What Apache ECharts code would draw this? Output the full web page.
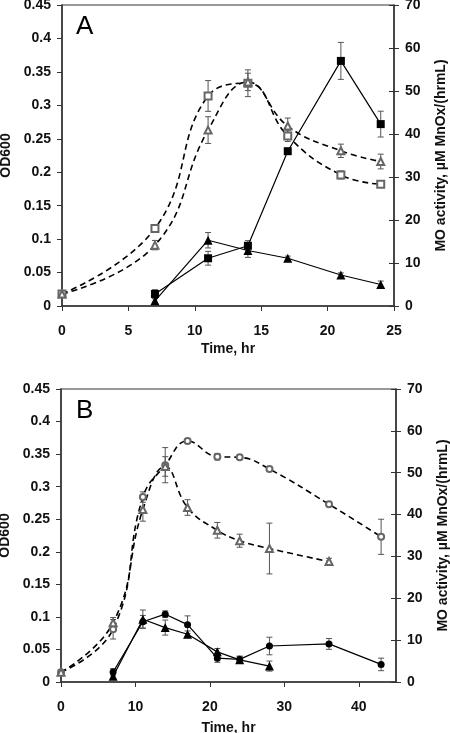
<!DOCTYPE html>
<html>
<head>
<meta charset="utf-8">
<script src="https://cdn.jsdelivr.net/npm/echarts@6/dist/echarts.min.js"></script>
<style>
html,body{margin:0;padding:0;background:#fff;}
#chart{width:450px;height:733px;}
</style>
</head>
<body>
<div id="chart"></div>
<script>
// ---------- Panel A ----------
const timeA = [0, 7, 11, 14, 17, 21, 24];
const odSquareA = [0.018, 0.116, 0.314, 0.333, 0.254, 0.196, 0.182];
const odSquareErrA = [0.003, 0.004, 0.023, 0.02, 0.008, 0.006, 0.004];
const odTriA = [0.018, 0.091, 0.263, 0.335, 0.269, 0.232, 0.216];
const odTriErrA = [0.003, 0.007, 0.02, 0.013, 0.012, 0.01, 0.011];
const timeMOA = [7, 11, 14, 17, 21, 24];
const moSquareA = [2.8, 11.1, 14.0, 36.0, 57.0, 42.3];
const moSquareErrA = [1.0, 1.6, 1.2, 0.5, 4.3, 3.0];
const moTriA = [1.2, 15.3, 12.9, 11.1, 7.2, 5.0];
const moTriErrA = [0.5, 1.8, 1.6, 0.5, 0.5, 0.8];

// ---------- Panel B ----------
const timeCircB = [0, 7, 11, 14, 17, 21, 24, 28, 36, 43];
const odCircB = [0.015, 0.081, 0.284, 0.333, 0.370, 0.346, 0.345, 0.327, 0.273, 0.223];
const odCircErrB = [0.002, 0.015, 0.008, 0.027, 0.003, 0.005, 0.003, 0.003, 0.003, 0.027];
const timeTriB = [0, 7, 11, 14, 17, 21, 24, 28, 36];
const odTriB = [0.015, 0.091, 0.265, 0.331, 0.268, 0.233, 0.217, 0.205, 0.185];
const odTriErrB = [0.002, 0.008, 0.018, 0.015, 0.012, 0.012, 0.01, 0.039, 0.005];
const timeMOCircB = [7, 11, 14, 17, 21, 24, 28, 36, 43];
const moCircB = [2.4, 14.4, 16.2, 13.7, 5.7, 5.4, 8.6, 9.1, 4.2];
const moCircErrB = [0.8, 1.5, 0.8, 2.1, 1.0, 0.8, 2.1, 1.3, 1.5];
const timeMOTriB = [7, 11, 14, 17, 21, 24, 28];
const moTriB = [1.4, 15.0, 13.0, 11.4, 7.2, 5.3, 3.8];
const moTriErrB = [0.8, 2.2, 1.8, 0.8, 0.8, 0.8, 1.2];

// ---------- tick settings ----------
const odTicks = {min: 0, max: 0.45, interval: 0.05};
const moTicks = {min: 0, max: 70, interval: 10};
const xTicksA = {min: 0, max: 25, interval: 5};
const xTicksB = {min: 0, max: 45, interval: 10};

const FONT = 'Liberation Sans, Arial, sans-serif';
const AXC = '#333';
const labelStyle = {color: '#111', fontFamily: FONT, fontWeight: 'bold', fontSize: 14};

function pairs(xs, ys) { return xs.map((x, i) => [x, ys[i]]); }
function triples(xs, ys, es) { return xs.map((x, i) => [x, ys[i], es[i]]); }

function errSeries(xs, ys, es, xi, yi) {
  return {
    type: 'custom', xAxisIndex: xi, yAxisIndex: yi, z: 1, silent: true,
    data: triples(xs, ys, es),
    renderItem: function (params, api) {
      const x = api.value(0), y = api.value(1), e = api.value(2);
      const t = api.coord([x, y + e]);
      const b = api.coord([x, y - e]);
      const w = 3;
      const st = {stroke: '#555', lineWidth: 1};
      return {type: 'group', children: [
        {type: 'line', shape: {x1: t[0], y1: t[1], x2: b[0], y2: b[1]}, style: st},
        {type: 'line', shape: {x1: t[0] - w, y1: t[1], x2: t[0] + w, y2: t[1]}, style: st},
        {type: 'line', shape: {x1: b[0] - w, y1: b[1], x2: b[0] + w, y2: b[1]}, style: st}
      ]};
    }
  };
}

function dashSeries(xs, ys, sym, size, xi, yi) {
  return {
    type: 'line', xAxisIndex: xi, yAxisIndex: yi, z: 3,
    data: pairs(xs, ys), smooth: 0.45,
    symbol: sym, symbolSize: size, showAllSymbol: true,
    lineStyle: {color: '#000', width: 1.6, type: [6, 4]},
    itemStyle: {color: '#666', borderColor: '#666', borderWidth: 1}
  };
}

function solidSeries(xs, ys, sym, size, xi, yi) {
  return {
    type: 'line', xAxisIndex: xi, yAxisIndex: yi, z: 4,
    data: pairs(xs, ys), smooth: false,
    symbol: sym, symbolSize: size, showAllSymbol: true,
    lineStyle: {color: '#000', width: 1.2},
    itemStyle: {color: '#000'}
  };
}

function leftAxis(grid, gap) {
  return Object.assign({
    type: 'value', gridIndex: grid, position: 'left',
    name: 'OD600', nameLocation: 'middle', nameRotate: 90, nameGap: gap,
    nameTextStyle: labelStyle,
    axisLine: {show: true, lineStyle: {color: AXC, width: 1.5}},
    axisTick: {show: true, length: 5, lineStyle: {color: AXC}},
    axisLabel: Object.assign({margin: 11, formatter: v => String(+v.toFixed(2))}, labelStyle),
    splitLine: {show: false}
  }, odTicks);
}
function rightAxis(grid, gap) {
  return Object.assign({
    type: 'value', gridIndex: grid, position: 'right',
    name: 'MO activity, µM MnOx/(hrmL)', nameLocation: 'middle', nameRotate: 90, nameGap: gap,
    nameTextStyle: labelStyle,
    axisLine: {show: true, lineStyle: {color: AXC, width: 1.5}},
    axisTick: {show: true, length: 5, lineStyle: {color: AXC}},
    axisLabel: Object.assign({margin: 11}, labelStyle),
    splitLine: {show: false}
  }, moTicks);
}
function rightInner(grid) {
  return Object.assign({
    type: 'value', gridIndex: grid, position: 'right',
    axisLine: {show: false},
    axisTick: {show: true, inside: true, length: 5, lineStyle: {color: AXC}},
    axisLabel: {show: false}, splitLine: {show: false}
  }, moTicks);
}
function bottomAxis(grid, ticks, margin, gap, showMax) {
  return Object.assign({
    type: 'value', gridIndex: grid, position: 'bottom',
    name: 'Time, hr', nameLocation: 'middle', nameGap: gap,
    nameTextStyle: labelStyle,
    axisLine: {show: true, onZero: false, lineStyle: {color: AXC, width: 1.5}},
    axisTick: {show: true, length: 5, lineStyle: {color: AXC}},
    axisLabel: Object.assign({margin: margin, showMaxLabel: showMax}, labelStyle),
    splitLine: {show: false}
  }, ticks);
}

const chart = echarts.init(document.getElementById('chart'), null, {renderer: 'canvas'});
chart.setOption({
  animation: false,
  backgroundColor: '#fff',
  title: [
    {text: 'A', left: 71, top: 9, textStyle: {fontFamily: FONT, fontWeight: 'normal', fontSize: 26, color: '#000'}},
    {text: 'B', left: 71, top: 393, textStyle: {fontFamily: FONT, fontWeight: 'normal', fontSize: 26, color: '#000'}}
  ],
  grid: [
    {left: 62, right: 56, top: 5, bottom: 427, outerBoundsMode: 'none', containLabel: false, show: true, borderColor: AXC, borderWidth: 1.2, backgroundColor: 'transparent'},
    {left: 61, right: 54, top: 389, bottom: 51, outerBoundsMode: 'none', containLabel: false, show: true, borderColor: AXC, borderWidth: 1.2, backgroundColor: 'transparent'}
  ],
  xAxis: [
    bottomAxis(0, xTicksA, 18, 36, true),
    bottomAxis(1, xTicksB, 18, 39, false)
  ],
  yAxis: [
    leftAxis(0, 43), rightAxis(0, 40), rightInner(0),
    leftAxis(1, 43), rightAxis(1, 40), rightInner(1)
  ],
  series: [
    // Panel A
    errSeries(timeA, odSquareA, odSquareErrA, 0, 0),
    errSeries(timeA, odTriA, odTriErrA, 0, 0),
    errSeries(timeMOA, moSquareA, moSquareErrA, 0, 1),
    errSeries(timeMOA, moTriA, moTriErrA, 0, 1),
    dashSeries(timeA, odSquareA, 'emptyRect', 7, 0, 0),
    dashSeries(timeA, odTriA, 'emptyTriangle', 7, 0, 0),
    solidSeries(timeMOA, moSquareA, 'rect', 8, 0, 1),
    solidSeries(timeMOA, moTriA, 'triangle', 9, 0, 1),
    // Panel B
    errSeries(timeCircB, odCircB, odCircErrB, 1, 3),
    errSeries(timeTriB, odTriB, odTriErrB, 1, 3),
    errSeries(timeMOCircB, moCircB, moCircErrB, 1, 4),
    errSeries(timeMOTriB, moTriB, moTriErrB, 1, 4),
    dashSeries(timeCircB, odCircB, 'emptyCircle', 6, 1, 3),
    dashSeries(timeTriB, odTriB, 'emptyTriangle', 7, 1, 3),
    solidSeries(timeMOCircB, moCircB, 'circle', 7, 1, 4),
    solidSeries(timeMOTriB, moTriB, 'triangle', 9, 1, 4)
  ]
});
</script>
</body>
</html>
